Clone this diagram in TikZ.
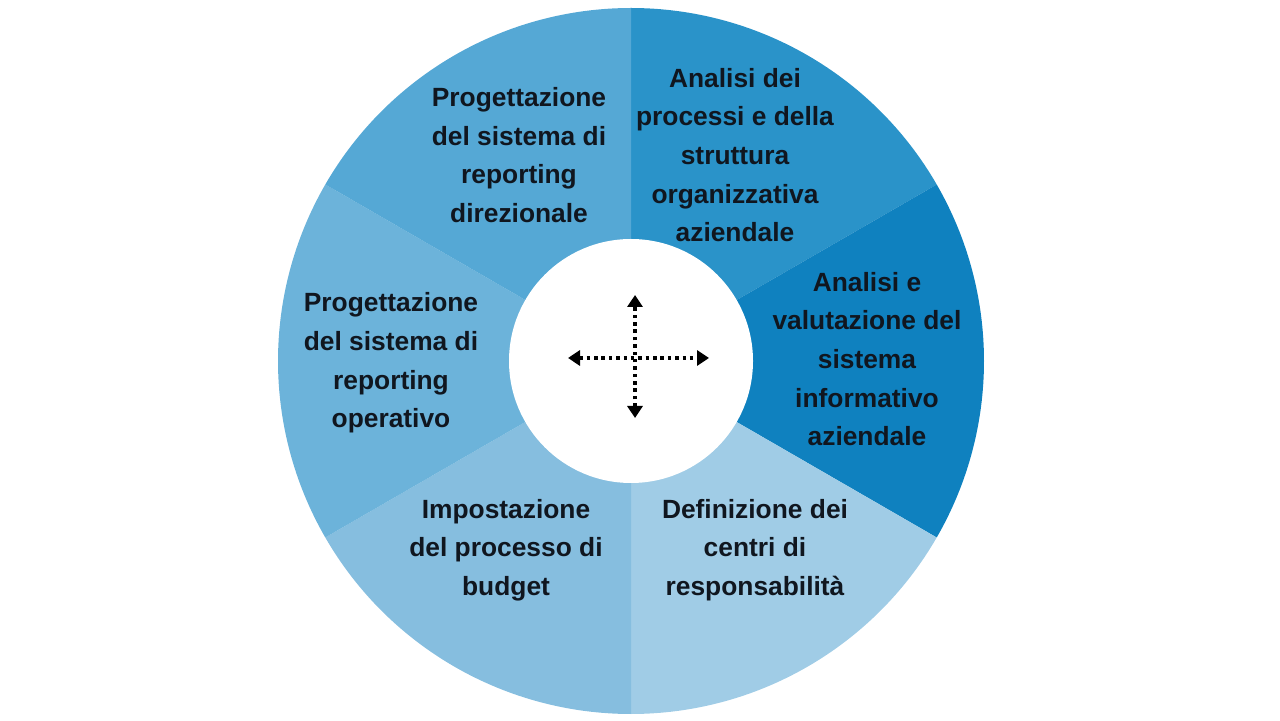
\documentclass[tikz,border=0pt]{standalone}
\usepackage{fontspec}
\setmainfont{Liberation Sans}
\usepackage{tikz}
\usepackage{xcolor}
\usetikzlibrary{arrows.meta,calc,positioning}
\definecolor{segA}{HTML}{2A93C9}
\definecolor{segB}{HTML}{0F81BF}
\definecolor{segC}{HTML}{A0CCE6}
\definecolor{segD}{HTML}{86BEDF}
\definecolor{segE}{HTML}{6CB3DA}
\definecolor{segF}{HTML}{55A8D5}
\definecolor{txt}{HTML}{10161F}
\tikzset{%
	seglabel/.style = {align=center, text=txt, font=\bfseries\fontsize{15}{22}\selectfont}, % Segment text
	hole/.style     = {fill=white}, % Inner disc
	dotarrow/.style = {line width=2pt, dash pattern=on 2pt off 2.2pt, {Triangle[width=0.3cm,length=0.24cm]}-{Triangle[width=0.3cm,length=0.24cm]}},
}

\begin{document}
\begin{tikzpicture}
	\useasboundingbox (0,0) rectangle (25.6,14.4);
	\coordinate (c) at (12.62,7.18);
	
	% ring segments
	\fill[segA] (c) -- ++(30:7.06) arc (30:90:7.06) -- cycle;
	\fill[segB] (c) -- ++(-30:7.06) arc (-30:30:7.06) -- cycle;
	\fill[segC] (c) -- ++(-90:7.06) arc (-90:-30:7.06) -- cycle;
	\fill[segD] (c) -- ++(210:7.06) arc (210:270:7.06) -- cycle;
	\fill[segE] (c) -- ++(150:7.06) arc (150:210:7.06) -- cycle;
	\fill[segF] (c) -- ++(90:7.06) arc (90:150:7.06) -- cycle;
	\fill[hole] (c) circle (2.44);
	
	\node [seglabel] (proc) at (14.70,11.30) {Analisi dei\\processi e della\\struttura\\organizzativa\\aziendale};
	\node [seglabel] (info) at (17.34,7.22) {Analisi e\\valutazione del\\sistema\\informativo\\aziendale};
	\node [seglabel] (resp) at (15.10,3.40) {Definizione dei\\centri di\\responsabilità};
	\node [seglabel] (budg) at (10.12,3.40) {Impostazione\\del processo di\\budget};
	\node [seglabel] (oper) at (7.82,7.14) {Progettazione\\del sistema di\\reporting\\operativo};
	\node [seglabel] (dire) at (10.38,11.30) {Progettazione\\del sistema di\\reporting\\direzionale};
	
	% central cross
	\coordinate (xl) at (11.36,7.24);
	\coordinate (xr) at (14.18,7.24);
	\coordinate (yt) at (12.70,8.50);
	\coordinate (yb) at (12.70,6.04);
	\draw[dotarrow] (xl) -- (xr);
	\draw[dotarrow] (yb) -- (yt);
\end{tikzpicture}
\end{document}
